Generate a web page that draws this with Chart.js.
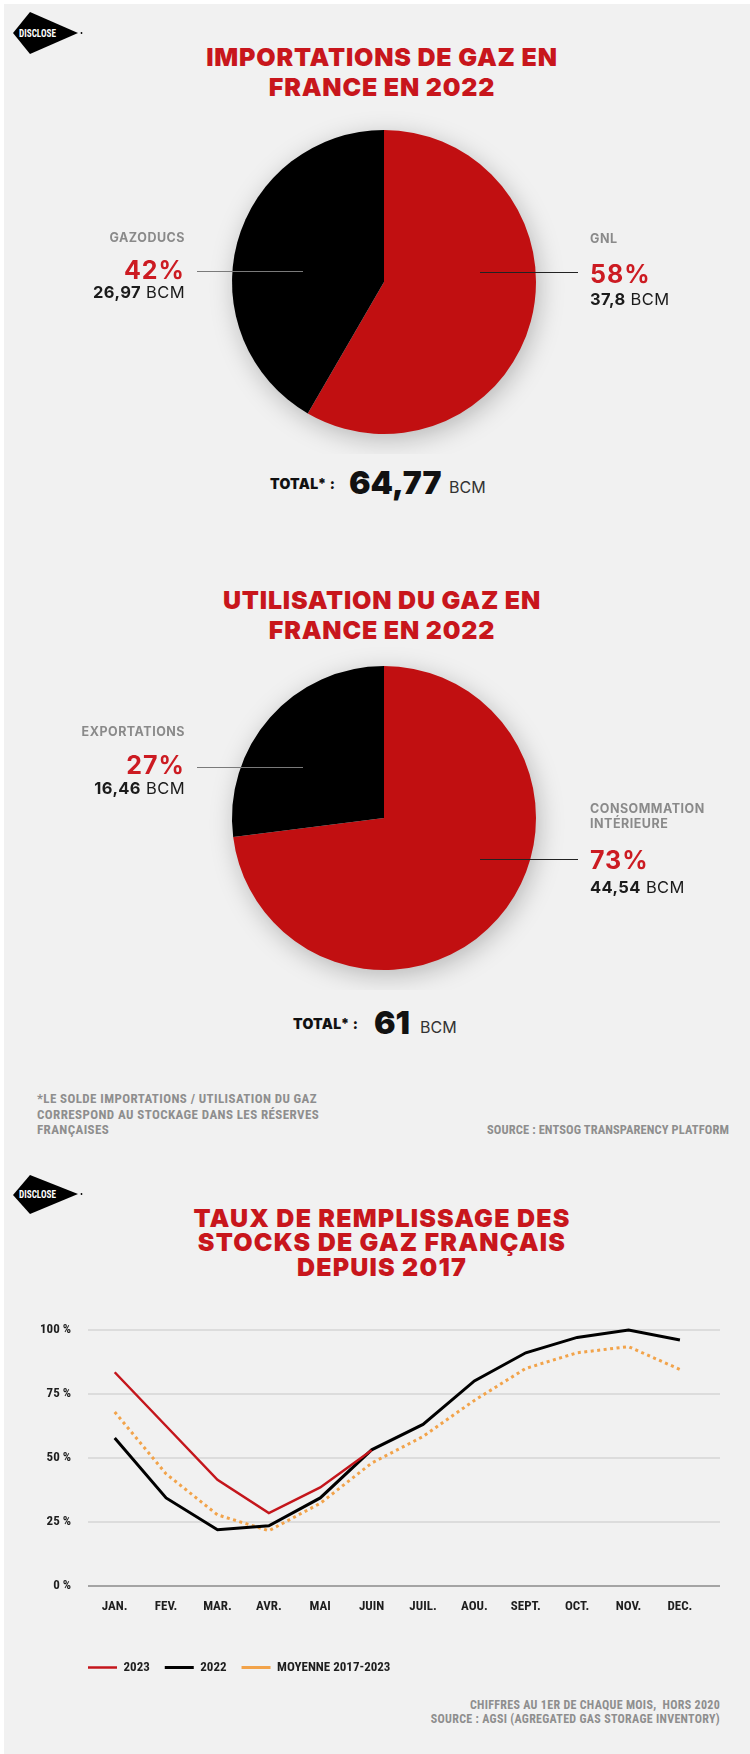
<!DOCTYPE html>
<html lang="fr">
<head>
<meta charset="UTF-8">
<title>Gaz en France</title>
<script src="https://cdn.jsdelivr.net/npm/chart.js"></script>
<style>
  body { margin: 0; background: #fff; font-family: 'Inter', 'Roboto', sans-serif; }
  #page { position: absolute; left: 4px; top: 4px; width: 746px; height: 1750px; background: #f1f1f1; overflow: hidden; }
  .abs { position: absolute; }
  .t { position: absolute; white-space: nowrap; line-height: 1; transform: translateY(-50%); }
  .title { position: absolute; left: 7px; width: 750px; text-align: center; color: #c8161c;
           font-family: 'Inter', sans-serif; font-weight: 900; font-size: 25px; letter-spacing: 0.8px;
           line-height: 1; transform: translateY(-50%); white-space: nowrap; }
  .title.big { letter-spacing: 1.2px; }
  .cat { color: #8a8a8a; font-weight: 700; font-size: 12.5px; letter-spacing: 0.5px; }
  .pct { color: #cc1b22; font-weight: 700; font-size: 25px; letter-spacing: 1px; }
  .bcm { color: #1b1b1b; font-size: 16.5px; letter-spacing: 0.4px; }
  .bcm b { font-weight: 700; }
  .r { text-align: right; }
  .lead { position: absolute; height: 1px; }
  .tot { color: #111; font-weight: 900; font-size: 14px; letter-spacing: 0.3px; }
  .totv { color: #111; font-weight: 900; font-size: 32px; }
  .totu { color: #333; font-size: 16px; }
  .note { color: #8e8e8e; font-family: 'Roboto Condensed', 'Roboto', sans-serif; font-weight: 700;
          font-size: 13px; letter-spacing: 0.4px; line-height: 15.5px; }
  canvas { position: absolute; left: 0; }
</style>
</head>
<body>
<div id="page"></div>
<div id="root" class="abs" style="left:0;top:0;width:750px;height:1754px;">

  <svg class="abs" style="left:0;top:0" width="100" height="70">
    <polygon points="13,33 30,12 78,33 30,54" fill="#000"/>
    <circle cx="81.5" cy="33" r="0.9" fill="#000"/>
    <text x="19" y="36.5" fill="#fff" font-family="Roboto Condensed" font-weight="700" font-size="10" textLength="37" lengthAdjust="spacingAndGlyphs">DISCLOSE</text>
  </svg>
  <div class="title" style="top:57px">IMPORTATIONS DE GAZ EN</div>
  <div class="title" style="top:87px">FRANCE EN 2022</div>

  <canvas id="pieImport" width="750" height="344" style="top:110px"></canvas>
  <div class="lead" style="left:197px;width:106px;top:271px;background:#7a7a7a"></div>
  <div class="lead" style="left:480px;width:98px;top:272px;background:#222"></div>

  <div class="t cat r" style="right:565px;top:238px">GAZODUCS</div>
  <div class="t pct r" id="pct1b" style="right:565px;top:270px"></div>
  <div class="t bcm r" id="bcm1b" style="right:565px;top:292px"></div>
  <div class="t cat" style="left:590px;top:239px">GNL</div>
  <div class="t pct" id="pct1a" style="left:590px;top:274px"></div>
  <div class="t bcm" id="bcm1a" style="left:590px;top:299px"></div>

  <div class="t tot" style="left:270px;top:484px">TOTAL* :</div>
  <div class="t totv" id="tot1v" style="left:349px;top:483px"></div>
  <div class="t totu" style="left:449px;top:487px">BCM</div>

  <div class="title" style="top:600px">UTILISATION DU GAZ EN</div>
  <div class="title" style="top:630px">FRANCE EN 2022</div>

  <canvas id="pieUse" width="750" height="344" style="top:646px"></canvas>
  <div class="lead" style="left:197px;width:106px;top:767px;background:#7a7a7a"></div>
  <div class="lead" style="left:480px;width:98px;top:859px;background:#222"></div>

  <div class="t cat r" style="right:565px;top:732px">EXPORTATIONS</div>
  <div class="t pct r" id="pct2b" style="right:565px;top:765px"></div>
  <div class="t bcm r" id="bcm2b" style="right:565px;top:788px"></div>
  <div class="t cat" style="left:590px;top:809px">CONSOMMATION</div>
  <div class="t cat" style="left:590px;top:824px">INTÉRIEURE</div>
  <div class="t pct" id="pct2a" style="left:590px;top:860px"></div>
  <div class="t bcm" id="bcm2a" style="left:590px;top:887px"></div>

  <div class="t tot" style="left:293px;top:1024px">TOTAL* :</div>
  <div class="t totv" id="tot2v" style="left:374px;top:1023px"></div>
  <div class="t totu" style="left:420px;top:1027px">BCM</div>

  <div class="abs note" style="left:37px;top:1091px">*LE SOLDE IMPORTATIONS / UTILISATION DU GAZ<br>CORRESPOND AU STOCKAGE DANS LES RÉSERVES<br>FRANÇAISES</div>
  <div class="abs note" style="right:21px;top:1122px;text-align:right;font-size:12.5px;letter-spacing:0.1px">SOURCE : ENTSOG TRANSPARENCY PLATFORM</div>

  <svg class="abs" style="left:0;top:1162px" width="100" height="70">
    <polygon points="13,33 30,13 78,32 30,52" fill="#000"/>
    <circle cx="81.5" cy="32" r="0.9" fill="#000"/>
    <text x="19" y="36" fill="#fff" font-family="Roboto Condensed" font-weight="700" font-size="10" textLength="37" lengthAdjust="spacingAndGlyphs">DISCLOSE</text>
  </svg>
  <div class="title big" style="top:1218px">TAUX DE REMPLISSAGE DES</div>
  <div class="title big" style="top:1242px">STOCKS DE GAZ FRANÇAIS</div>
  <div class="title big" style="top:1267px">DEPUIS 2017</div>

  <canvas id="fillChart" width="750" height="384" style="top:1300px"></canvas>

  <div class="abs note" style="right:30px;top:1698px;text-align:right;line-height:14px;font-size:12px;letter-spacing:0.3px">CHIFFRES AU 1ER DE CHAQUE MOIS,&nbsp; HORS 2020<br>SOURCE : AGSI (AGREGATED GAS STORAGE INVENTORY)</div>
</div>

<script>
// importations 2022 (BCM)
const importLabels = ['GNL', 'GAZODUCS'];
const importBcm = [37.8, 26.97];
// utilisation 2022 (BCM)
const useLabels = ['CONSOMMATION INTÉRIEURE', 'EXPORTATIONS'];
const useBcm = [44.54, 16.46];

// taux de remplissage au 1er de chaque mois (%)
const months = ['JAN.', 'FEV.', 'MAR.', 'AVR.', 'MAI', 'JUIN', 'JUIL.', 'AOU.', 'SEPT.', 'OCT.', 'NOV.', 'DEC.'];
const fill2023 = [83.5, 62.5, 41.5, 28.5, 38.5, 53];
const fill2022 = [57.8, 34.4, 22, 23.5, 34.4, 53.2, 63.1, 80.1, 91.1, 97.1, 100, 96.1];
const fillAvg = [68, 43.8, 27.8, 21.6, 32.3, 48, 58.4, 72.5, 85, 91.1, 93.5, 84.6];
const yTicks = [0, 25, 50, 75, 100];

const RED = '#c10f11';
const fr = v => String(v).replace('.', ',');

function fillLabels(vals, a, b, tot) {
  const total = vals[0] + vals[1];
  document.getElementById(a[0]).textContent = Math.round(vals[0] / total * 100) + '%';
  document.getElementById(b[0]).textContent = Math.round(vals[1] / total * 100) + '%';
  document.getElementById(a[1]).innerHTML = '<b>' + fr(vals[0]) + '</b> BCM';
  document.getElementById(b[1]).innerHTML = '<b>' + fr(vals[1]) + '</b> BCM';
  document.getElementById(tot).textContent = fr(Math.round(total * 100) / 100);
}
fillLabels(importBcm, ['pct1a', 'bcm1a'], ['pct1b', 'bcm1b'], 'tot1v');
fillLabels(useBcm, ['pct2a', 'bcm2a'], ['pct2b', 'bcm2b'], 'tot2v');

// soft shadow under the pie
const pieShadow = {
  id: 'pieShadow',
  beforeDatasetsDraw(chart) {
    const arc = chart.getDatasetMeta(0).data[0];
    const ctx = chart.ctx;
    ctx.save();
    ctx.shadowColor = 'rgba(0,0,0,0.25)';
    ctx.shadowBlur = 26;
    ctx.shadowOffsetX = 3;
    ctx.shadowOffsetY = 6;
    ctx.beginPath();
    ctx.arc(arc.x, arc.y, arc.outerRadius - 1, 0, Math.PI * 2);
    ctx.fillStyle = '#f1f1f1';
    ctx.fill();
    ctx.restore();
  }
};

function makePie(id, labels, values) {
  new Chart(document.getElementById(id), {
    type: 'pie',
    data: {
      labels: labels,
      datasets: [{ data: values, backgroundColor: [RED, '#000'], borderWidth: 0 }]
    },
    options: {
      responsive: false,
      animation: false,
      layout: { padding: { left: 232, right: 214, top: 20, bottom: 20 } },
      plugins: { legend: { display: false }, tooltip: { enabled: false } }
    },
    plugins: [pieShadow]
  });
}
makePie('pieImport', importLabels, importBcm);
makePie('pieUse', useLabels, useBcm);

const toXY = arr => arr.map((v, i) => ({ x: i, y: v }));
const tickFont = { family: "'Roboto Condensed', Roboto", weight: '700', size: 13 };

new Chart(document.getElementById('fillChart'), {
  type: 'line',
  data: {
    datasets: [
      { label: '2023', data: toXY(fill2023), borderColor: '#c4161c', backgroundColor: '#c4161c', borderWidth: 2.5 },
      { label: '2022', data: toXY(fill2022), borderColor: '#000', backgroundColor: '#000', borderWidth: 3 },
      { label: 'MOYENNE 2017-2023', data: toXY(fillAvg), borderColor: '#f2a34a', backgroundColor: '#f2a34a', borderWidth: 3, borderDash: [3, 3.5] }
    ]
  },
  options: {
    responsive: false,
    animation: false,
    clip: false,
    elements: { point: { radius: 0 }, line: { tension: 0, borderCapStyle: 'butt' } },
    layout: { padding: { left: 0, right: 30, top: 30, bottom: 0 } },
    scales: {
      x: {
        type: 'linear',
        min: -0.52,
        max: 11.78,
        afterBuildTicks: axis => { axis.ticks = months.map((m, i) => ({ value: i })); },
        afterFit: axis => { axis.height = 75; },
        grid: { display: false, drawTicks: false },
        border: { display: false },
        ticks: {
          autoSkip: false, maxRotation: 0, padding: 13, color: '#1e1e1e', font: tickFont,
          callback: v => months[v]
        }
      },
      y: {
        min: 0,
        max: 100,
        afterBuildTicks: axis => { axis.ticks = yTicks.map(v => ({ value: v })); },
        afterFit: axis => { axis.width = 88; },
        border: { display: false },
        grid: {
          drawTicks: false,
          lineWidth: 2,
          color: c => c.tick && c.tick.value === 0 ? '#a4a4a4' : '#dcdcdc'
        },
        ticks: { padding: 17, color: '#1e1e1e', font: tickFont, callback: v => v + ' %' }
      }
    },
    plugins: {
      tooltip: { enabled: false },
      legend: {
        position: 'bottom',
        align: 'start',
        fullSize: false,
        labels: {
          usePointStyle: true,
          pointStyle: 'line',
          pointStyleWidth: 29,
          padding: 0,
          color: '#1e1e1e',
          font: tickFont,
          // keep the gap between entries without shifting the first one
          generateLabels: chart => Chart.defaults.plugins.legend.labels.generateLabels(chart)
            .map(item => Object.assign(item, { text: item.text + '     ' }))
        }
      }
    }
  }
});
</script>
</body>
</html>
